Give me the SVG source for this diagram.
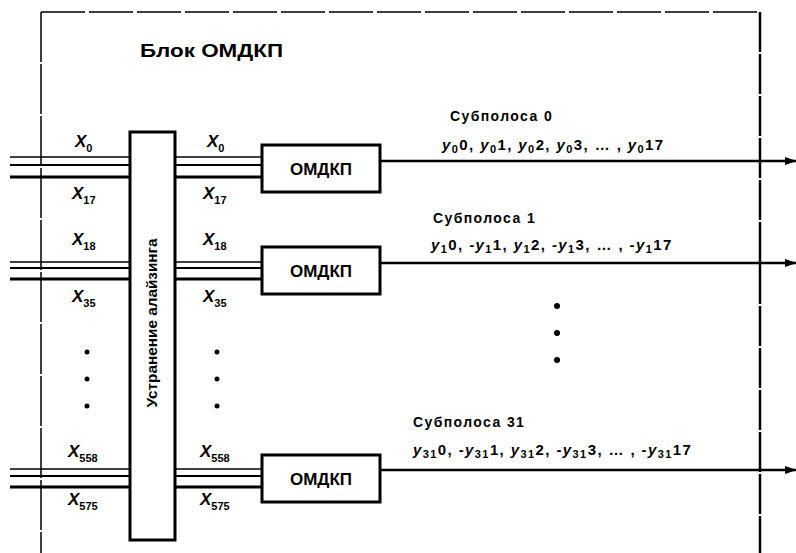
<svg xmlns="http://www.w3.org/2000/svg" width="796" height="553" viewBox="0 0 796 553">
<style>
  .t{font-family:"Liberation Sans",Arial,sans-serif;font-weight:bold;fill:#000}
  .x{font-size:17px;font-style:italic}
  .sub{font-size:11px;font-style:normal}
  .sb{font-size:14px;letter-spacing:1.4px}
  .f{font-size:14px}
  .fm{font-size:15px;letter-spacing:1.4px}
  .box{fill:#fff;stroke:#000;stroke-width:3}
  .ln{stroke:#000;fill:none}
  .dot{fill:#000}
</style>
<defs>
  <marker id="ah" markerWidth="12" markerHeight="10" refX="11" refY="5" orient="auto" markerUnits="userSpaceOnUse">
    <path d="M0,1 L12,5 L0,9 Z" fill="#000"/>
  </marker>
</defs>
<rect width="796" height="553" fill="#fff"/>

<g id="frame">
  <line class="ln" x1="41" y1="12" x2="41" y2="553" stroke-width="1.5" stroke-dasharray="50 2"/>
  <line class="ln" x1="41" y1="12" x2="760" y2="12" stroke-width="1.5" stroke-dasharray="44 4"/>
  <line class="ln" x1="760" y1="12" x2="760" y2="553" stroke-width="2.5" stroke-dasharray="40 2"/>
</g>

<g id="title">
  <text class="t" x="140" y="57" font-size="19" textLength="143" lengthAdjust="spacingAndGlyphs">Блок ОМДКП</text>
</g>

<g id="connectors">
  <g id="in1">
    <line class="ln" x1="10" y1="157" x2="130" y2="157" stroke-width="1.5"/>
    <line class="ln" x1="10" y1="165" x2="130" y2="165" stroke-width="2"/>
    <line class="ln" x1="10" y1="177" x2="130" y2="177" stroke-width="3"/>
  </g>
  <g id="in2">
    <line class="ln" x1="10" y1="262" x2="130" y2="262" stroke-width="1.5"/>
    <line class="ln" x1="10" y1="268" x2="130" y2="268" stroke-width="2"/>
    <line class="ln" x1="10" y1="279" x2="130" y2="279" stroke-width="3"/>
  </g>
  <g id="in3">
    <line class="ln" x1="10" y1="469" x2="130" y2="469" stroke-width="1.5"/>
    <line class="ln" x1="10" y1="476" x2="130" y2="476" stroke-width="2"/>
    <line class="ln" x1="10" y1="487" x2="130" y2="487" stroke-width="3"/>
  </g>
  <g id="mid1">
    <line class="ln" x1="175" y1="157" x2="262" y2="157" stroke-width="1.5"/>
    <line class="ln" x1="175" y1="165" x2="262" y2="165" stroke-width="2"/>
    <line class="ln" x1="175" y1="177" x2="262" y2="177" stroke-width="3"/>
  </g>
  <g id="mid2">
    <line class="ln" x1="175" y1="262" x2="262" y2="262" stroke-width="1.5"/>
    <line class="ln" x1="175" y1="268" x2="262" y2="268" stroke-width="2"/>
    <line class="ln" x1="175" y1="279" x2="262" y2="279" stroke-width="3"/>
  </g>
  <g id="mid3">
    <line class="ln" x1="175" y1="469" x2="262" y2="469" stroke-width="1.5"/>
    <line class="ln" x1="175" y1="476" x2="262" y2="476" stroke-width="2"/>
    <line class="ln" x1="175" y1="487" x2="262" y2="487" stroke-width="3"/>
  </g>
  <line class="ln" x1="380" y1="161" x2="796" y2="161" stroke-width="2.5" marker-end="url(#ah)"/>
  <line class="ln" x1="380" y1="263" x2="796" y2="263" stroke-width="2.5" marker-end="url(#ah)"/>
  <line class="ln" x1="380" y1="470" x2="796" y2="470" stroke-width="2.5" marker-end="url(#ah)"/>
</g>

<g id="aliasing">
  <rect class="box" x="130" y="132" width="45" height="408"/>
  <text class="t f" transform="translate(157,323) rotate(-90)" text-anchor="middle" textLength="169" lengthAdjust="spacingAndGlyphs">Устранение алайзинга</text>
</g>

<g id="omdkp0">
  <rect class="box" x="262" y="145" width="118" height="47"/>
  <text class="t" x="321" y="175" font-size="17" text-anchor="middle">ОМДКП</text>
</g>
<g id="omdkp1">
  <rect class="box" x="262" y="247" width="118" height="47"/>
  <text class="t" x="321" y="277" font-size="17" text-anchor="middle">ОМДКП</text>
</g>
<g id="omdkp31">
  <rect class="box" x="262" y="455" width="118" height="47"/>
  <text class="t" x="321" y="485" font-size="17" text-anchor="middle">ОМДКП</text>
</g>

<g id="input-labels">
  <text class="t x" x="75" y="147">X<tspan class="sub" dy="5">0</tspan></text>
  <text class="t x" x="72" y="199">X<tspan class="sub" dy="5">17</tspan></text>
  <text class="t x" x="72" y="245">X<tspan class="sub" dy="5">18</tspan></text>
  <text class="t x" x="72" y="302">X<tspan class="sub" dy="5">35</tspan></text>
  <text class="t x" x="68" y="457">X<tspan class="sub" dy="5">558</tspan></text>
  <text class="t x" x="68" y="505">X<tspan class="sub" dy="5">575</tspan></text>
  <circle class="dot" cx="87" cy="352" r="2.5"/>
  <circle class="dot" cx="87" cy="379" r="2.5"/>
  <circle class="dot" cx="87" cy="406" r="2.5"/>
</g>

<g id="mid-labels">
  <text class="t x" x="207" y="147">X<tspan class="sub" dy="5">0</tspan></text>
  <text class="t x" x="203" y="199">X<tspan class="sub" dy="5">17</tspan></text>
  <text class="t x" x="203" y="245">X<tspan class="sub" dy="5">18</tspan></text>
  <text class="t x" x="203" y="302">X<tspan class="sub" dy="5">35</tspan></text>
  <text class="t x" x="200" y="457">X<tspan class="sub" dy="5">558</tspan></text>
  <text class="t x" x="200" y="505">X<tspan class="sub" dy="5">575</tspan></text>
  <circle class="dot" cx="217" cy="352" r="2.5"/>
  <circle class="dot" cx="217" cy="379" r="2.5"/>
  <circle class="dot" cx="217" cy="406" r="2.5"/>
</g>

<g id="output-labels">
  <text class="t sb" x="450" y="121">Субполоса 0</text>
  <text class="t fm" x="442" y="150"><tspan font-style="italic">y</tspan><tspan class="sub" dy="3">0</tspan><tspan dy="-3">0, </tspan><tspan font-style="italic">y</tspan><tspan class="sub" dy="3">0</tspan><tspan dy="-3">1, </tspan><tspan font-style="italic">y</tspan><tspan class="sub" dy="3">0</tspan><tspan dy="-3">2, </tspan><tspan font-style="italic">y</tspan><tspan class="sub" dy="3">0</tspan><tspan dy="-3">3, … , </tspan><tspan font-style="italic">y</tspan><tspan class="sub" dy="3">0</tspan><tspan dy="-3">17</tspan></text>

  <text class="t sb" x="433" y="223">Субполоса 1</text>
  <text class="t fm" x="431" y="250"><tspan font-style="italic">y</tspan><tspan class="sub" dy="3">1</tspan><tspan dy="-3">0, -</tspan><tspan font-style="italic">y</tspan><tspan class="sub" dy="3">1</tspan><tspan dy="-3">1, </tspan><tspan font-style="italic">y</tspan><tspan class="sub" dy="3">1</tspan><tspan dy="-3">2, -</tspan><tspan font-style="italic">y</tspan><tspan class="sub" dy="3">1</tspan><tspan dy="-3">3, … , -</tspan><tspan font-style="italic">y</tspan><tspan class="sub" dy="3">1</tspan><tspan dy="-3">17</tspan></text>

  <circle class="dot" cx="557" cy="306" r="3"/>
  <circle class="dot" cx="557" cy="333" r="3"/>
  <circle class="dot" cx="557" cy="360" r="3"/>

  <text class="t sb" x="413" y="427">Субполоса 31</text>
  <text class="t fm" x="413" y="455"><tspan font-style="italic">y</tspan><tspan class="sub" dy="3">31</tspan><tspan dy="-3">0, -</tspan><tspan font-style="italic">y</tspan><tspan class="sub" dy="3">31</tspan><tspan dy="-3">1, </tspan><tspan font-style="italic">y</tspan><tspan class="sub" dy="3">31</tspan><tspan dy="-3">2, -</tspan><tspan font-style="italic">y</tspan><tspan class="sub" dy="3">31</tspan><tspan dy="-3">3, … , -</tspan><tspan font-style="italic">y</tspan><tspan class="sub" dy="3">31</tspan><tspan dy="-3">17</tspan></text>
</g>
</svg>
